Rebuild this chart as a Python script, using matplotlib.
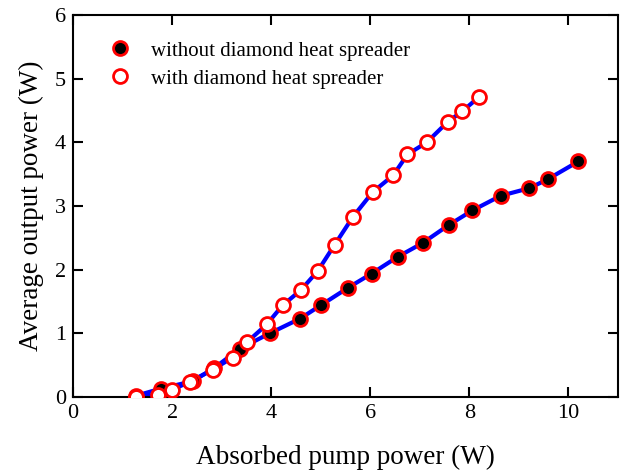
import matplotlib
matplotlib.use("Agg")
import matplotlib.pyplot as plt

plt.rcParams['font.family'] = ['Liberation Serif', 'DejaVu Serif']

x_without = [1.27, 1.77, 2.42, 2.84, 3.37, 3.97, 4.58, 5.00, 5.56, 6.03, 6.55, 7.06, 7.58, 8.06, 8.63, 9.21, 9.58, 10.20]
y_without = [0.02, 0.13, 0.25, 0.45, 0.76, 1.00, 1.23, 1.44, 1.72, 1.94, 2.20, 2.42, 2.70, 2.93, 3.16, 3.28, 3.42, 3.70]

x_with = [1.27, 1.71, 1.99, 2.36, 2.82, 3.22, 3.51, 3.91, 4.23, 4.60, 4.94, 5.28, 5.65, 6.05, 6.46, 6.75, 7.14, 7.56, 7.86, 8.19]
y_with = [0.00, 0.03, 0.11, 0.24, 0.43, 0.62, 0.86, 1.14, 1.44, 1.68, 1.98, 2.39, 2.83, 3.22, 3.48, 3.81, 4.00, 4.32, 4.49, 4.71]

fig = plt.figure(figsize=(6.25, 4.7), dpi=100)
ax = fig.add_axes([0.1168, 0.1553, 0.872, 0.8127])

ax.plot(x_without, y_without, color='#0000ff', lw=3, zorder=2)
ax.plot(x_with, y_with, color='#0000ff', lw=3, zorder=2)
ax.plot(x_without, y_without, 'o', ms=10, mfc='black', mec='#ff0000', mew=2,
        ls='none', zorder=3, label='without diamond heat spreader')
ax.plot(x_with, y_with, 'o', ms=10, mfc='white', mec='#ff0000', mew=2,
        ls='none', zorder=4, label='with diamond heat spreader')

ax.set_xlim(0, 11)
ax.set_ylim(0, 6)
ax.set_xticks([0, 2, 4, 6, 8, 10])
ax.set_yticks([0, 1, 2, 3, 4, 5, 6])
ax.tick_params(direction='in', top=True, right=True, length=7, width=1.5,
               labelsize=16, pad=5)
for s in ax.spines.values():
    s.set_linewidth(1.5)

ax.set_xlabel('Absorbed pump power (W)', fontsize=19.5, labelpad=16)
ax.set_ylabel('Average output power (W)', fontsize=19.5, labelpad=8)

leg = ax.legend(loc='upper left', bbox_to_anchor=(0.04, 0.97), frameon=False,
                fontsize=15, handletextpad=1.0, borderaxespad=0.3,
                labelspacing=0.4, handlelength=1.0)

fig.savefig('out.png', dpi=100)
